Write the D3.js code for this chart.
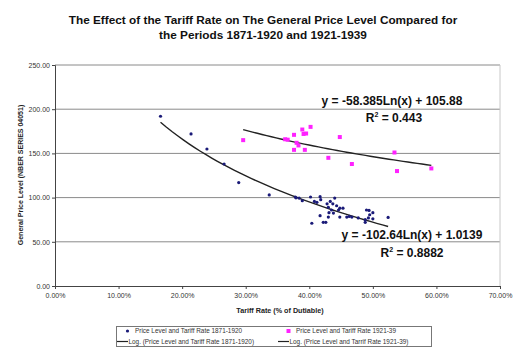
<!DOCTYPE html>
<html>
<head>
<meta charset="utf-8">
<script src="https://cdn.jsdelivr.net/npm/d3@7"></script>
<style>
  body { margin: 0; background: #fff; }
  text { font-family: "Liberation Sans", Arial, sans-serif; }
</style>
</head>
<body>
<div id="dataviz"></div>
<script>
// data (tariff rate as fraction, price level)
const tariff1871 = [0.166, 0.214, 0.239, 0.266, 0.289, 0.337, 0.378, 0.379, 0.384, 0.389, 0.402, 0.408,
  0.412, 0.417, 0.418, 0.428, 0.433, 0.440, 0.430, 0.435, 0.431, 0.438, 0.443, 0.448, 0.453, 0.417,
  0.430, 0.422, 0.426, 0.404, 0.448, 0.459, 0.463, 0.467, 0.477, 0.488, 0.490, 0.494, 0.500, 0.495,
  0.493, 0.500, 0.488, 0.524, 0.437, 0.446];
const price1871 = [192, 172, 155, 138, 117, 103, 100.7, 99.8, 99.5, 96.5, 100.7, 95.7,
  94.6, 101, 97.6, 93, 95.7, 99.5, 89, 86, 83, 82.5, 90.8, 88, 88, 79.5,
  78, 72, 72, 71, 78, 78, 78.7, 78, 77, 75, 86, 85.5, 83, 80.6,
  77, 76, 72, 77.6, 93, 86];

const tariff1921 = [0.296, 0.362, 0.366, 0.376, 0.389, 0.391, 0.395, 0.402, 0.380, 0.383, 0.376, 0.393,
  0.448, 0.430, 0.467, 0.534, 0.538, 0.592];
const price1921 = [165, 166, 165.5, 171, 177, 172, 172.5, 180, 162, 159, 154, 154,
  168.5, 145, 138, 151, 130, 133];

// log trendline coefficients shown on the chart: y = a*ln(x) + b
const fit1871 = [-102.64, 1.0139];
const fit1921 = [-58.385, 105.88];

const yTicks = [0, 50, 100, 150, 200, 250];
const xTicks = [0, 0.1, 0.2, 0.3, 0.4, 0.5, 0.6, 0.7];

const legendLabels = [
  "Price Level and Tariff Rate 1871-1920",
  "Price Level and Tariff Rate 1921-39",
  "Log. (Price Level and Tariff Rate 1871-1920)",
  "Log. (Price Level and Tarrif Rate 1921-39)"
];

const W = 523, H = 352;
const plot = {left: 55, right: 500, top: 65, bottom: 286};

const svg = d3.select("#dataviz").append("svg")
  .attr("width", W).attr("height", H);

const x = d3.scaleLinear().domain([0, 0.7]).range([plot.left, plot.right]);
const y = d3.scaleLinear().domain([0, 250]).range([plot.bottom, plot.top]);

// title
svg.append("text").attr("x", 263).attr("y", 24).attr("text-anchor", "middle")
  .attr("font-size", 11.8).attr("font-weight", "bold").attr("fill", "#111")
  .text("The Effect of the Tariff Rate on The General Price Level Compared for");
svg.append("text").attr("x", 263).attr("y", 39).attr("text-anchor", "middle")
  .attr("font-size", 11.8).attr("font-weight", "bold").attr("fill", "#111")
  .text("the Periods 1871-1920 and 1921-1939");

// gridlines
svg.append("g").selectAll("line").data(yTicks.filter(d => d > 0)).join("line")
  .attr("x1", plot.left).attr("x2", plot.right)
  .attr("y1", d => y(d)).attr("y2", d => y(d))
  .attr("stroke", "#8a8a8a").attr("stroke-width", 1);
// right border
svg.append("line").attr("x1", plot.right).attr("x2", plot.right)
  .attr("y1", plot.top).attr("y2", plot.bottom)
  .attr("stroke", "#c8c8c8");

// axes
const yAxis = svg.append("g").attr("transform", `translate(${plot.left},0)`)
  .call(d3.axisLeft(y).tickValues(yTicks).tickFormat(d3.format(".2f")).tickSize(3));
const xAxis = svg.append("g").attr("transform", `translate(0,${plot.bottom})`)
  .call(d3.axisBottom(x).tickValues(xTicks).tickFormat(d3.format(".2%")).tickSize(3));
[yAxis, xAxis].forEach(g => {
  g.select(".domain").attr("stroke", "#444");
  g.selectAll(".tick line").attr("stroke", "#444");
  g.selectAll("text").attr("font-family", "Liberation Sans, Arial, sans-serif")
    .attr("font-size", 7).attr("fill", "#333");
});
yAxis.selectAll("text").attr("x", -5);
xAxis.selectAll("text").attr("y", 7);

// axis titles
svg.append("text").attr("x", 280).attr("y", 313).attr("text-anchor", "middle")
  .attr("font-size", 7.2).attr("font-weight", "bold").attr("fill", "#222")
  .text("Tariff Rate (% of Dutiable)");
svg.append("text").attr("transform", "translate(23,175) rotate(-90)")
  .attr("text-anchor", "middle").attr("font-size", 7).attr("font-weight", "bold").attr("fill", "#222")
  .text("General Price Level (NBER SERIES 04051)");

// trendlines from the fitted equations
function trend(xs, fit) {
  const lo = d3.min(xs), hi = d3.max(xs);
  return d3.range(0, 41).map(i => {
    const t = lo + (hi - lo) * i / 40;
    return [t, fit[0] * Math.log(t) + fit[1]];
  });
}
const line = d3.line().x(d => x(d[0])).y(d => y(d[1]));
svg.append("path").attr("d", line(trend(tariff1871, fit1871)))
  .attr("fill", "none").attr("stroke", "#222").attr("stroke-width", 1.4);
svg.append("path").attr("d", line(trend(tariff1921, fit1921)))
  .attr("fill", "none").attr("stroke", "#222").attr("stroke-width", 1.4);

// points
const pts1871 = tariff1871.map((t, i) => [t, price1871[i]]);
const pts1921 = tariff1921.map((t, i) => [t, price1921[i]]);
svg.append("g").selectAll("circle").data(pts1871).join("circle")
  .attr("cx", d => x(d[0])).attr("cy", d => y(d[1])).attr("r", 1.6)
  .attr("fill", "#1a1a78");
svg.append("g").selectAll("rect").data(pts1921).join("rect")
  .attr("x", d => x(d[0]) - 2).attr("y", d => y(d[1]) - 2)
  .attr("width", 4).attr("height", 4).attr("fill", "#ff22ff");

// equation labels
const eq = svg.append("g").attr("font-weight", "bold").attr("font-size", 12).attr("fill", "#111")
  .attr("text-anchor", "middle");
eq.append("text").attr("x", 392).attr("y", 105).text("y = -58.385Ln(x) + 105.88");
const r1 = eq.append("text").attr("x", 394).attr("y", 122);
r1.append("tspan").text("R");
r1.append("tspan").attr("font-size", 7).attr("dy", -5).text("2");
r1.append("tspan").attr("dy", 5).text(" = 0.443");
eq.append("text").attr("x", 412).attr("y", 239).text("y = -102.64Ln(x) + 1.0139");
const r2 = eq.append("text").attr("x", 412).attr("y", 257);
r2.append("tspan").text("R");
r2.append("tspan").attr("font-size", 7).attr("dy", -5).text("2");
r2.append("tspan").attr("dy", 5).text(" = 0.8882");

// legend
const lg = svg.append("g");
lg.append("rect").attr("x", 116.5).attr("y", 326.5).attr("width", 315).attr("height", 20)
  .attr("fill", "#fff").attr("stroke", "#777");
const legendPos = [[127.5, 331], [288.5, 331], [122.5, 341.5], [283.5, 341.5]];
legendLabels.forEach((lab, i) => {
  const [lx, ly] = legendPos[i];
  if (i === 0) {
    lg.append("circle").attr("cx", lx).attr("cy", ly).attr("r", 1.6).attr("fill", "#1a1a78");
  } else if (i === 1) {
    lg.append("rect").attr("x", lx - 2).attr("y", ly - 2).attr("width", 4).attr("height", 4)
      .attr("fill", "#ff22ff");
  } else {
    lg.append("line").attr("x1", lx - 5.5).attr("x2", lx + 5.5).attr("y1", ly).attr("y2", ly)
      .attr("stroke", "#222").attr("stroke-width", 1.2);
  }
  lg.append("text").attr("x", i < 2 ? lx + 7.5 : lx + 6).attr("y", ly + 2.3)
    .attr("font-size", 6.4).attr("fill", "#333").text(lab);
});
</script>
</body>
</html>
